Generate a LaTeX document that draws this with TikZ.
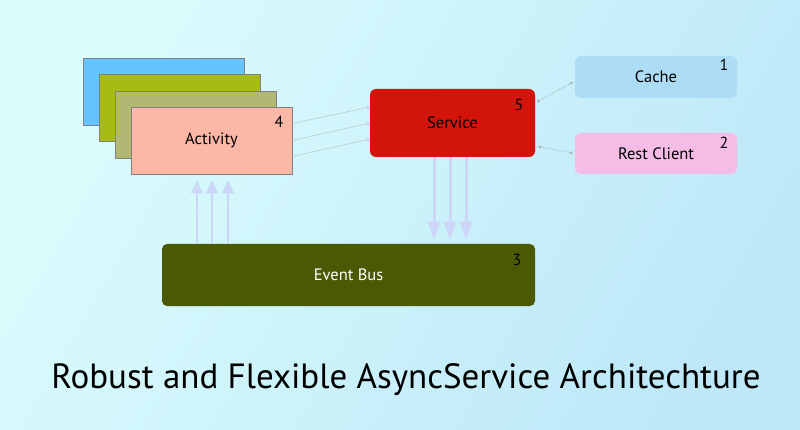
\documentclass[tikz,border=0pt]{standalone}
\usepackage{fontspec}
\setmainfont{PT Sans}
\usetikzlibrary{calc,positioning,shapes}
\usetikzlibrary{arrows.meta}
\definecolor{bgleft}{HTML}{DAFCFC}
\definecolor{bgright}{HTML}{BEE8F8}
\definecolor{actblue}{HTML}{66C4FC}
\definecolor{actgreen}{HTML}{A6BC14}
\definecolor{actkhaki}{HTML}{B0B874}
\definecolor{actsalmon}{HTML}{FDB7A7}
\definecolor{svcred}{HTML}{D2140A}
\definecolor{cacheblue}{HTML}{ADDDF6}
\definecolor{restpink}{HTML}{F5BDE6}
\definecolor{busgreen}{HTML}{4C5904}
\definecolor{arrlav}{HTML}{CDD6F6}
\tikzset{>={Stealth[width=3pt,length=3pt]}}

\begin{document}
\begin{tikzpicture}[x=1pt,y=-1pt]
  \tikzstyle{stack} = [draw=gray, line width=0.8pt, minimum width=161pt, minimum height=67pt, inner sep=0pt]
  \tikzstyle{rbox} = [rounded corners=6pt, inner sep=0pt, font=\fontsize{16.5}{20}\selectfont]
  \tikzstyle{num} = [inner sep=0pt, font=\fontsize{16}{19}\selectfont]
  \tikzstyle{link} = [gray!70, densely dotted, line width=0.7pt]
  \tikzstyle{uparrow} = [arrlav, line width=1.4pt, -{Triangle[width=12pt,length=13pt]}, shorten >=6pt]
  \tikzstyle{downarrow} = [arrlav, line width=3pt, -{Triangle[width=12pt,length=18pt]}, shorten >=4pt]

  \useasboundingbox (0,0) rectangle (800,430);
  \shade[left color=bgleft, right color=bgright, shading angle=60] (0,0) rectangle (800,430);

  % activity stack
  \node[stack, fill=actblue] (act1) at (164,92) {};
  \node[stack, fill=actgreen] (act2) at (179.5,108) {};
  \node[stack, fill=actkhaki] (act3) at (195.5,124.5) {};
  \node[stack, fill=actsalmon, font=\fontsize{16.5}{20}\selectfont] (act) at (211.5,140.5) {Activity};
  \node[num] (n4) at (279,122) {4};

  \node[rbox, fill=svcred, minimum width=165pt, minimum height=68pt] (svc) at (452.5,123) {Service};
  \node[num] (n5) at (519,105) {5};

  \node[rbox, fill=cacheblue, minimum width=162pt, minimum height=42pt] (cache) at (656,77) {Cache};
  \node[num] (n1) at (724,65) {1};
  \node[rbox, fill=restpink, minimum width=162pt, minimum height=41pt] (rest) at (656,153.5) {Rest Client};
  \node[num] (n2) at (724,143) {2};

  \node[rbox, rounded corners=5pt, fill=busgreen, text=white, minimum width=373pt, minimum height=62pt] (bus) at (348.5,275) {Event Bus};
  \node[num] (n3) at (517,260) {3};

  \node[font=\fontsize{35}{42}\selectfont] (title) at (406,380) {Robust and Flexible AsyncService Architechture};

  \draw[link, -{Circle[length=4pt,fill=arrlav,color=arrlav]}] ([yshift=17pt]act.east) -- ([yshift=16pt]svc.west);
  \draw[link, -{Circle[length=4pt,fill=arrlav,color=arrlav]}] (act.east) -- (svc.west);
  \draw[link, -{Circle[length=4pt,fill=arrlav,color=arrlav]}] ([yshift=-16pt]act.east) -- ([yshift=-16pt]svc.west);

  \draw[link, <->, shorten <=2pt, shorten >=2pt] ([yshift=20pt]svc.east) -- ([yshift=-4pt]cache.west);
  \draw[link, <->, shorten <=3pt, shorten >=2pt] ([yshift=-23pt]svc.east) -- (rest.west);

  \draw[uparrow] (197,0 |- bus.north) -- (197,0 |- act.south);
  \draw[uparrow] (212,0 |- bus.north) -- (212,0 |- act.south);
  \draw[uparrow] (228,0 |- bus.north) -- (228,0 |- act.south);

  \draw[downarrow] (434,0 |- svc.south) -- (434,0 |- bus.north);
  \draw[downarrow] (450,0 |- svc.south) -- (450,0 |- bus.north);
  \draw[downarrow] (466,0 |- svc.south) -- (466,0 |- bus.north);
\end{tikzpicture}
\end{document}
